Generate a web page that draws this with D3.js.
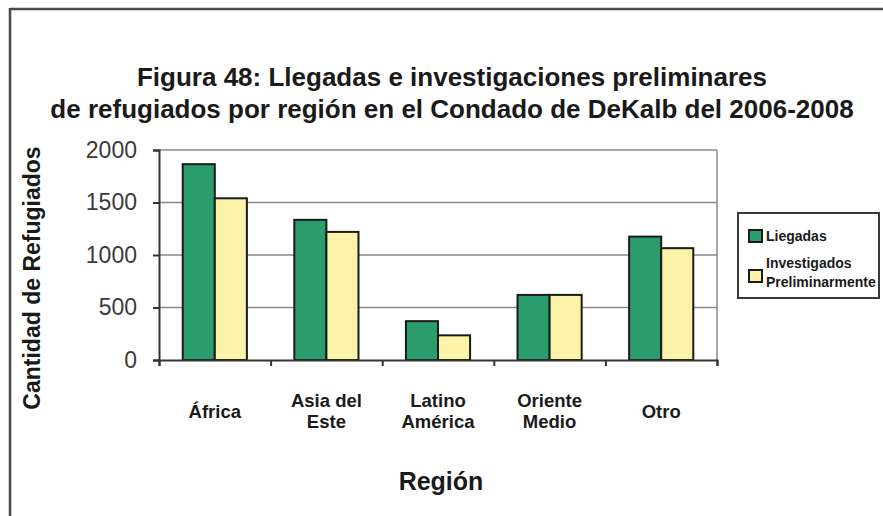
<!DOCTYPE html>
<html><head><meta charset="utf-8">
<script src="https://cdn.jsdelivr.net/npm/d3@7"></script>
<style>
html,body{margin:0;padding:0;background:#fff;}
svg{display:block;font-family:"Liberation Sans",Arial,sans-serif;}
</style></head>
<body>
<svg id="chart" width="883" height="516"></svg>
<script>
const categories = [["África"], ["Asia del","Este"], ["Latino","América"], ["Oriente","Medio"], ["Otro"]];
const seriesNames = ["Liegadas", "Investigados Preliminarmente"];
const llegadas = [1865, 1335, 370, 620, 1175];
const investigados = [1540, 1220, 235, 620, 1065];
const yTicks = [0, 500, 1000, 1500, 2000];
const colors = ["#2b9c6b", "#fbf4a8"];

const svg = d3.select("#chart");
const plot = {l:159, r:717, t:150, b:360};

// outer frame
svg.append("line").attr("x1",10).attr("x2",883).attr("y1",9).attr("y2",9).attr("stroke","#4a4a4a").attr("stroke-width",2.5);
svg.append("line").attr("x1",10).attr("x2",10).attr("y1",8).attr("y2",516).attr("stroke","#4a4a4a").attr("stroke-width",2.5);

// title
const title = svg.append("text").attr("text-anchor","middle").attr("font-weight","bold").attr("font-size",26).attr("fill","#1a1a1a");
title.append("tspan").attr("x",452).attr("y",86).text("Figura 48: Llegadas e investigaciones preliminares");
title.append("tspan").attr("x",452).attr("y",118).text("de refugiados por región en el Condado de DeKalb del 2006-2008");

const idx = categories.map((d,i)=>i);
const x0 = d3.scaleBand().domain(idx).range([plot.l, plot.r]).padding(0);
const bw = x0.bandwidth();
const groupW = bw*0.575;
const x1 = d3.scaleBand().domain([0,1]).range([(bw-groupW)/2, (bw+groupW)/2]).padding(0);
const y = d3.scaleLinear().domain([0,2000]).range([plot.b, plot.t]);

// gridlines
svg.append("g").selectAll("line").data(yTicks.filter(v=>v>0)).join("line")
  .attr("x1",plot.l).attr("x2",plot.r).attr("y1",d=>y(d)).attr("y2",d=>y(d))
  .attr("stroke","#8a8a8a").attr("stroke-width",1.5);
// right border
svg.append("line").attr("x1",plot.r).attr("x2",plot.r).attr("y1",plot.t).attr("y2",plot.b).attr("stroke","#8a8a8a").attr("stroke-width",1.5);

// bars
const data = idx.map(i=>[llegadas[i], investigados[i]]);
const g = svg.append("g").selectAll("g").data(data).join("g").attr("transform",(d,i)=>`translate(${x0(i)},0)`);
g.selectAll("rect").data(d=>d.map((v,k)=>({v,k}))).join("rect")
  .attr("x",d=>x1(d.k)).attr("width",x1.bandwidth())
  .attr("y",d=>y(d.v)).attr("height",d=>y(0)-y(d.v))
  .attr("fill",d=>colors[d.k]).attr("stroke","#1a1a1a").attr("stroke-width",2);

// y axis
const yAxis = d3.axisLeft(y).tickValues(yTicks).tickSize(6).tickPadding(16).tickFormat(d3.format("d"));
const ya = svg.append("g").attr("transform",`translate(${plot.l},0)`).call(yAxis);
ya.select(".domain").attr("stroke","#333").attr("stroke-width",2);
ya.selectAll(".tick line").attr("stroke","#333").attr("stroke-width",2);
ya.selectAll(".tick text").attr("font-size",23).attr("fill","#3a3a3a").attr("font-family","Liberation Sans, Arial, sans-serif");

// x axis
const xb = d3.scaleLinear().domain([0,categories.length]).range([plot.l, plot.r]);
const xAxis = d3.axisBottom(xb).tickValues(d3.range(categories.length+1)).tickSize(6).tickFormat("");
const xa = svg.append("g").attr("transform",`translate(0,${plot.b})`).call(xAxis);
xa.select(".domain").attr("stroke","#333").attr("stroke-width",2);
xa.selectAll(".tick line").attr("stroke","#333").attr("stroke-width",2);

// category labels
const cl = svg.append("g").selectAll("text").data(categories).join("text")
  .attr("text-anchor","middle").attr("font-weight","bold").attr("font-size",18.5).attr("fill","#1a1a1a");
cl.each(function(lines,i){
  const t = d3.select(this);
  const cx = x0(i)+bw/2;
  const y0 = lines.length===1 ? 418 : 407;
  lines.forEach((s,j)=>t.append("tspan").attr("x",cx).attr("y",y0+j*21).text(s));
});

// axis titles
svg.append("text").attr("text-anchor","middle").attr("font-weight","bold").attr("font-size",25).attr("fill","#1a1a1a")
  .attr("x",441).attr("y",490).text("Región");
svg.append("text").attr("text-anchor","middle").attr("font-weight","bold").attr("font-size",23).attr("fill","#1a1a1a")
  .attr("transform","translate(40,278) rotate(-90)").text("Cantidad de Refugiados");

// legend
const lg = svg.append("g");
lg.append("rect").attr("x",738).attr("y",213).attr("width",141).attr("height",85)
  .attr("fill","#fff").attr("stroke","#3a3a3a").attr("stroke-width",2);
lg.append("rect").attr("x",749).attr("y",230).attr("width",13).attr("height",12).attr("fill",colors[0]).attr("stroke","#1a1a1a").attr("stroke-width",2);
lg.append("rect").attr("x",749).attr("y",270).attr("width",13).attr("height",12).attr("fill",colors[1]).attr("stroke","#1a1a1a").attr("stroke-width",2);
lg.append("text").attr("x",766).attr("y",241).attr("font-weight","bold").attr("font-size",14).attr("fill","#1a1a1a").text(seriesNames[0]);
const l2 = lg.append("text").attr("font-weight","bold").attr("font-size",14).attr("fill","#1a1a1a");
l2.append("tspan").attr("x",766).attr("y",268).text("Investigados");
l2.append("tspan").attr("x",766).attr("y",287).text("Preliminarmente");
</script>
</body></html>
